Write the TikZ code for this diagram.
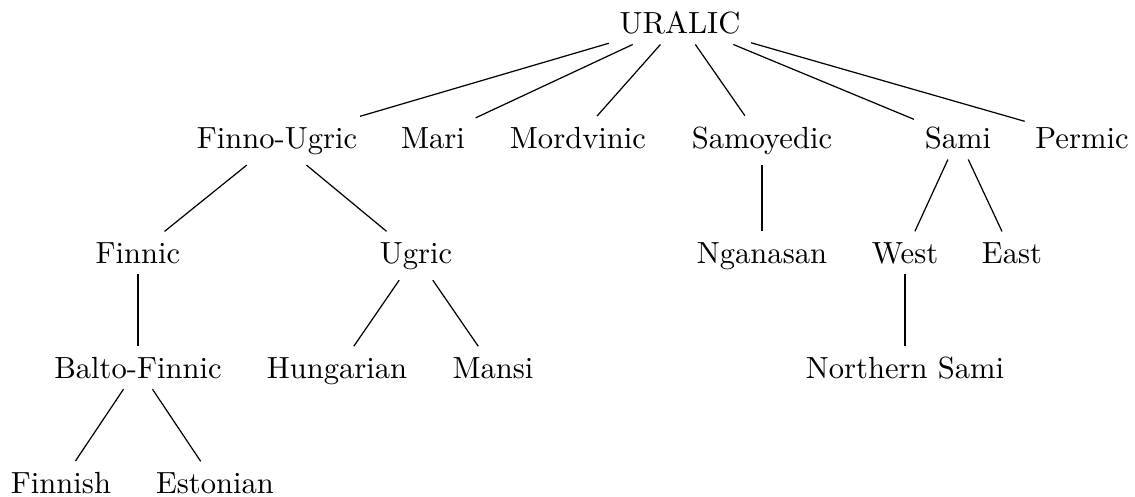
\documentclass[tikz,border=0pt]{standalone}
\usepackage{tikz}
\usetikzlibrary{positioning}
\tikzstyle{lang} = [anchor=base, inner sep=0.333em]
\tikzstyle{branch} = [draw]
\begin{document}
\begin{tikzpicture}[x=0.3268pt, y=-0.3268pt]
        \useasboundingbox (0,0) rectangle (1135,496);
        %% Vertices
        \node [lang] at (680,33) (U) {URALIC};
        \node [lang] at (277,148) (FU) {Finno-Ugric};
        \node [lang] at (433,148) (Ma) {Mari};
        \node [lang] at (578,148) (Mo) {Mordvinic};
        \node [lang] at (762,148) (Sy) {Samoyedic};
        \node [lang] at (958,148) (Sa) {Sami};
        \node [lang] at (1082,148) (P) {Permic};
        \node [lang] at (138,263) (Fc) {Finnic};
        \node [lang] at (416,263) (Ug) {Ugric};
        \node [lang] at (762,263) (Ng) {Nganasan};
        \node [lang] at (905,263) (W) {West};
        \node [lang] at (1012,263) (E) {East};
        \node [lang] at (138,378) (BF) {Balto-Finnic};
        \node [lang] at (337,378) (H) {Hungarian};
        \node [lang] at (493,378) (Mn) {Mansi};
        \node [lang] at (905,378) (NS) {Northern Sami};
        \node [lang] at (61,493) (Fi) {Finnish};
        \node [lang] at (215,493) (Es) {Estonian};
        %% Arcs
        \path [branch] (U) -- (FU);
        \path [branch] (U) -- (Ma);
        \path [branch] (U) -- (Mo);
        \path [branch] (U) -- (Sy);
        \path [branch] (U) -- (Sa);
        \path [branch] (U) -- (P);
        \path [branch] (FU) -- (Fc);
        \path [branch] (FU) -- (Ug);
        \path [branch] (Sy) -- (Ng);
        \path [branch] (Sa) -- (W);
        \path [branch] (Sa) -- (E);
        \path [branch] (Fc) -- (BF);
        \path [branch] (Ug) -- (H);
        \path [branch] (Ug) -- (Mn);
        \path [branch] (W) -- (NS);
        \path [branch] (BF) -- (Fi);
        \path [branch] (BF) -- (Es);
    \end{tikzpicture}
\end{document}
